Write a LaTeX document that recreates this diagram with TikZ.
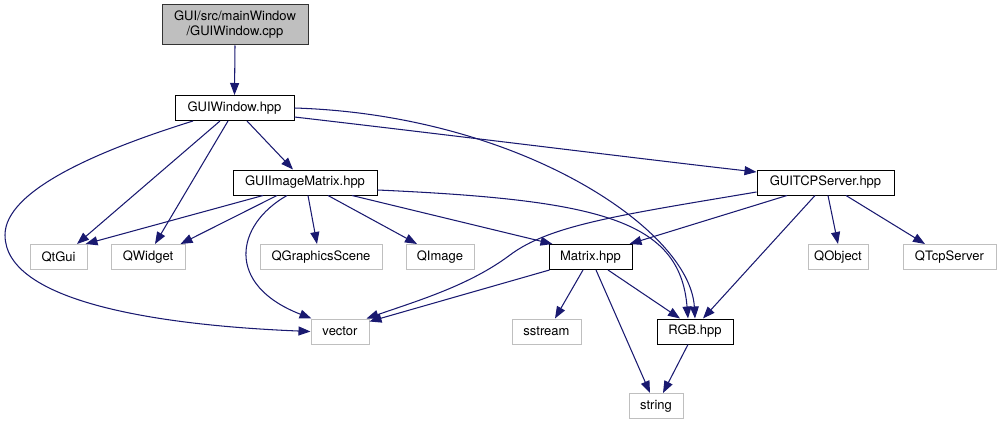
\documentclass[tikz,border=0pt]{standalone}
\usepackage{fontspec}
\setmainfont{TeX Gyre Heros}
\usetikzlibrary{arrows.meta}
\definecolor{edgecol}{RGB}{25,25,112}
\definecolor{extgrey}{RGB}{191,191,191}
\definecolor{rootfill}{RGB}{191,191,191}
\begin{document}
\begin{tikzpicture}[x=1pt,y=-1pt,
  box/.style={rectangle,inner sep=0pt,minimum height=25pt,font=\fontsize{13}{15}\selectfont,line width=1pt},
  realbox/.style={box,draw=black},
  extbox/.style={box,draw=extgrey},
  rootbox/.style={box,draw=black!80,fill=rootfill,align=center,minimum height=40pt},
  edge/.style={draw=edgecol,line width=1.05pt,-{Triangle[length=12pt,width=9pt]}}]
\useasboundingbox (0,0) rectangle (1001,425);
% nodes
\node[rootbox,minimum width=146pt] (root) at (235,25) {GUI/src/mainWindow\\/GUIWindow.cpp};
\node[realbox,minimum width=119pt] (gw) at (234.5,108) {GUIWindow.hpp};
\node[realbox,minimum width=144pt] (gim) at (305,182.5) {GUIImageMatrix.hpp};
\node[realbox,minimum width=137pt] (tcp) at (825.5,182.5) {GUITCPServer.hpp};
\node[extbox,minimum width=57pt] (qtgui) at (58.5,257) {QtGui};
\node[extbox,minimum width=74pt] (qwidget) at (148,257) {QWidget};
\node[extbox,minimum width=122pt] (qgs) at (321,257) {QGraphicsScene};
\node[extbox,minimum width=68pt] (qimage) at (440,257) {QImage};
\node[realbox,minimum width=83pt] (matrix) at (590.5,257) {Matrix.hpp};
\node[extbox,minimum width=60pt] (qobject) at (838,257) {QObject};
\node[extbox,minimum width=93pt] (qtcp) at (949.5,257) {QTcpServer};
\node[extbox,minimum width=58pt] (vector) at (340,331.5) {vector};
\node[extbox,minimum width=69pt] (sstream) at (546.5,331.5) {sstream};
\node[realbox,minimum width=76pt] (rgb) at (695,331.5) {RGB.hpp};
\node[extbox,minimum width=54pt] (string) at (656,406) {string};
% edges
\draw[edge] (root.south) -- (gw.north);
\draw[edge] ([xshift=-14.5pt]gw.south) -- ([xshift=18.5pt]qtgui.north);
\draw[edge] ([xshift=-6.5pt]gw.south) -- ([xshift=7pt]qwidget.north);
\draw[edge] ([xshift=12.5pt]gw.south) -- ([xshift=-12pt]gim.north);
\draw[edge] ([xshift=-41.5pt]gw.south) .. controls (100,150) and (5,190) .. (5,235)
  .. controls (5,300) and (150,325) .. (vector.west);
\draw[edge] (gw.east) .. controls (520,115) and (690,230) .. (rgb.north);
\draw[edge] ([yshift=-9pt]gw.east) .. controls (450,135) and (650,160) .. ([yshift=10.5pt]tcp.west);
\draw[edge] ([xshift=-42pt]gim.south) -- ([xshift=-2pt]qtgui.north east);
\draw[edge] ([xshift=-28pt]gim.south) -- ([xshift=-5pt]qwidget.north east);
\draw[edge] ([xshift=3pt]gim.south) -- ([xshift=-4pt]qgs.north);
\draw[edge] ([xshift=23pt]gim.south) -- ([xshift=-23pt]qimage.north);
\draw[edge] ([xshift=47pt]gim.south) -- ([xshift=4pt]matrix.north west);
\draw[edge] ([xshift=-18pt]gim.south) .. controls (235,225) and (225,285) .. ([xshift=1pt]vector.north west);
\draw[edge] ([yshift=-7.5pt]gim.east) .. controls (600,200) and (680,220) .. ([xshift=-7pt]rgb.north);
\draw[edge] ([xshift=-38.5pt]tcp.south) -- ([xshift=-3pt]matrix.north east);
\draw[edge] ([yshift=-9.5pt]tcp.west) .. controls (620,215) and (550,225) .. (510,255)
  .. controls (470,285) and (420,300) .. ([xshift=-3pt]vector.north east);
\draw[edge] ([xshift=-10.5pt]tcp.south) -- ([xshift=8pt]rgb.north);
\draw[edge] ([xshift=2.5pt]tcp.south) -- (qobject.north);
\draw[edge] ([xshift=20.5pt]tcp.south) -- ([xshift=-24.5pt]qtcp.north);
\draw[edge] ([xshift=1pt]matrix.south west) -- ([yshift=-3pt]vector.north east);
\draw[edge] ([xshift=-7.5pt]matrix.south) -- ([xshift=8.5pt]sstream.north);
\draw[edge] ([xshift=17.5pt]matrix.south) -- ([xshift=-15pt]rgb.north);
\draw[edge] ([xshift=5.5pt]matrix.south) -- ([xshift=-6pt]string.north);
\draw[edge] ([xshift=-7pt]rgb.south) -- ([xshift=7pt]string.north);
\end{tikzpicture}
\end{document}
